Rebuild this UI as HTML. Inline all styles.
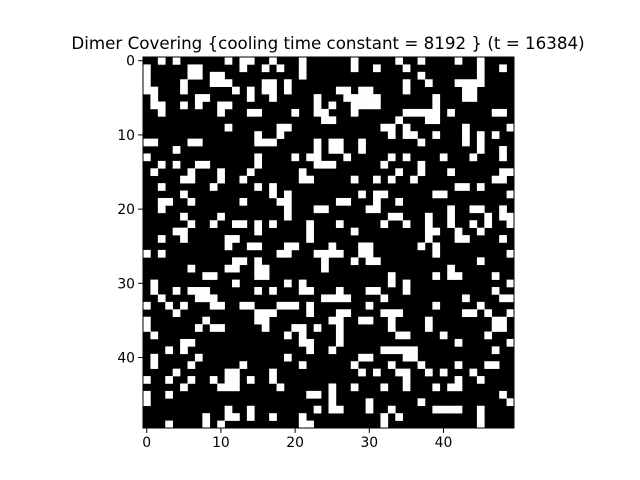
<!DOCTYPE html>
<html><head><meta charset="utf-8"><style>
html,body{margin:0;padding:0;background:#fff;}
svg{display:block;font-family:"DejaVu Sans","Liberation Sans",sans-serif;}
</style></head><body>
<svg id="chart" width="640" height="480" viewBox="0 0 640 480">
<rect width="640" height="480" fill="#fff"/>
<text x="328" y="49" font-size="16.7" text-anchor="middle" fill="#000">Dimer Covering {cooling time constant = 8192 } (t = 16384)</text>
<g id="cells"></g>
<g id="axes"></g>
</svg>
<script>
const nRows = 50;
const nCols = 50;
const xTicks = [0, 10, 20, 30, 40];
const yTicks = [0, 10, 20, 30, 40];
// white cell column indices per row
const whiteCells = [
[2,4,11,13,14,17,21, 28,34,37,42,45],
[0,6,7,13,16,18,21, 28,31,35,45,48],
[0,6,7,9,10,21, 37,45],
[0,5,9,10,11,16,17,19, 35,38,42,43,44,45],
[0,1,5,12,14,16,17,19, 26,27,29,30,35,43,44],
[1,7,8,14,17,23, 27,28,29,30,31,39,43,44],
[1,2,5,7,10,11,23, 25,28,29,30,31,39],
[2,10,14,15,20,23,24, 28,35,36,37,38,39,41,47,48],
[24, 25,34,38,39],
[11,18,19, 32,33,35,43,49],
[15,18, 33,35,36,39,43,45,47],
[0,1,6,7,15,16,17,23, 25,26,29,37,43,45],
[4,23, 25,26,29,45,48],
[0,15,20,22,23, 27,33,35,40,44,48],
[2,4,7,8,15,23,24, 25,32,37],
[1,6,10,14,21, 34,37,41,48,49],
[5,6,10,13,21,22, 28,31,33,36,47,48],
[2,9,15,17, 42,43,45],
[5,17,19, 29,31,32,39,40,49],
[2,3,6,13,18,19, 26,27,31,34],
[2,19,23,24, 30,31,41,44,45,48],
[5,10,19, 33,34,38,41,46,48,49],
[6,9,12,13,15,17,22, 26,32,35,38,41,44,46,49],
[4,5,15,22, 28,38,39,42,45],
[2,5,11,12,22, 38,42,43,48],
[11,14,15,19,20, 25,29,30,37,39],
[0,2,18,19,23,24, 25,26,29,30,39,49],
[12,13,15,24, 28,30,31,45],
[6,11,12,15,16,24, 41],
[8,9,15,16, 33,39,41,42,47],
[1,12,19,21, 33,35,49],
[1,4,6,7,8,15,17,21,22, 26,30,31,35,47],
[2,7,8,9,24, 25,26,27,32,43,48,49],
[0,3,5,9,10,13,14,18,19,20,22, 30,39,45],
[4,15,16,17,22, 26,27,32,33,34,43,44,46,49],
[0,8,15,16, 25,26,29,30,33,38,47,48],
[0,7,9,10,16,20,21,23, 26,33,38,47,48],
[1,19,21, 26,34,35,40,46],
[5,6,21,22, 26,42,49],
[3,5,22, 25,32,33,34,35,36,47],
[1,7,19, 29,30,35,36],
[1,6,13,21, 28,33,37,42,46,47],
[4,11,12,17, 29,31,34,35,38,40,44],
[0,3,6,9,11,12,14,17, 35,42,45],
[5,10,11,12,18, 25,28,32,35,39,41,42],
[0,3,22,23, 25,48],
[0, 25,30,37,49],
[11,14,23, 25,26,30,33,39,40,41,42,45],
[8,11,12,14,17,21, 32,34,45],
[3,8,10,21,22, 32,45]
];
const x0 = 143, y0 = 57, plotW = 371, plotH = 371;
const NS = 'http://www.w3.org/2000/svg';
function xScale(c){ return x0 + c * plotW / nCols; }
function yScale(r){ return y0 + r * plotH / nRows; }
const cells = document.getElementById('cells');
const bg = document.createElementNS(NS,'rect');


bg.setAttribute('x', x0); bg.setAttribute('y', y0);
bg.setAttribute('width', plotW); bg.setAttribute('height', plotH);
bg.setAttribute('fill', '#000');
cells.appendChild(bg);
whiteCells.forEach((cols, r) => {
  cols.forEach(c => {
    const el = document.createElementNS(NS,'rect');
    
    
    el.setAttribute('x', xScale(c)); el.setAttribute('y', yScale(r));
    el.setAttribute('width', plotW/nCols + 0.3); el.setAttribute('height', plotH/nRows + 0.3);
    el.setAttribute('fill', '#fff');
    cells.appendChild(el);
  });
});
const axes = document.getElementById('axes');
const frame = document.createElementNS(NS,'rect');


frame.setAttribute('x', x0); frame.setAttribute('y', y0);
frame.setAttribute('width', plotW); frame.setAttribute('height', plotH);
frame.setAttribute('fill', 'none'); frame.setAttribute('stroke', '#000'); frame.setAttribute('stroke-width', '1');
axes.appendChild(frame);
xTicks.forEach(t => {
  const x = xScale(t + 0.5);
  const ln = document.createElementNS(NS,'line');
  
  
  ln.setAttribute('x1', x); ln.setAttribute('x2', x);
  ln.setAttribute('y1', y0 + plotH); ln.setAttribute('y2', y0 + plotH + 4.9);
  ln.setAttribute('stroke', '#000');
  axes.appendChild(ln);
  const tx = document.createElementNS(NS,'text');
  
  
  tx.setAttribute('x', x); tx.setAttribute('y', y0 + plotH + 19);
  tx.setAttribute('font-size', '13.9'); tx.setAttribute('text-anchor', 'middle');
  tx.textContent = t;
  axes.appendChild(tx);
});
yTicks.forEach(t => {
  const y = yScale(t + 0.5);
  const ln = document.createElementNS(NS,'line');
  
  
  ln.setAttribute('x1', x0 - 4.9); ln.setAttribute('x2', x0);
  ln.setAttribute('y1', y); ln.setAttribute('y2', y);
  ln.setAttribute('stroke', '#000');
  axes.appendChild(ln);
  const tx = document.createElementNS(NS,'text');
  
  
  tx.setAttribute('x', x0 - 8); tx.setAttribute('y', y + 5);
  tx.setAttribute('font-size', '13.9'); tx.setAttribute('text-anchor', 'end');
  tx.textContent = t;
  axes.appendChild(tx);
});
</script>
</body></html>
